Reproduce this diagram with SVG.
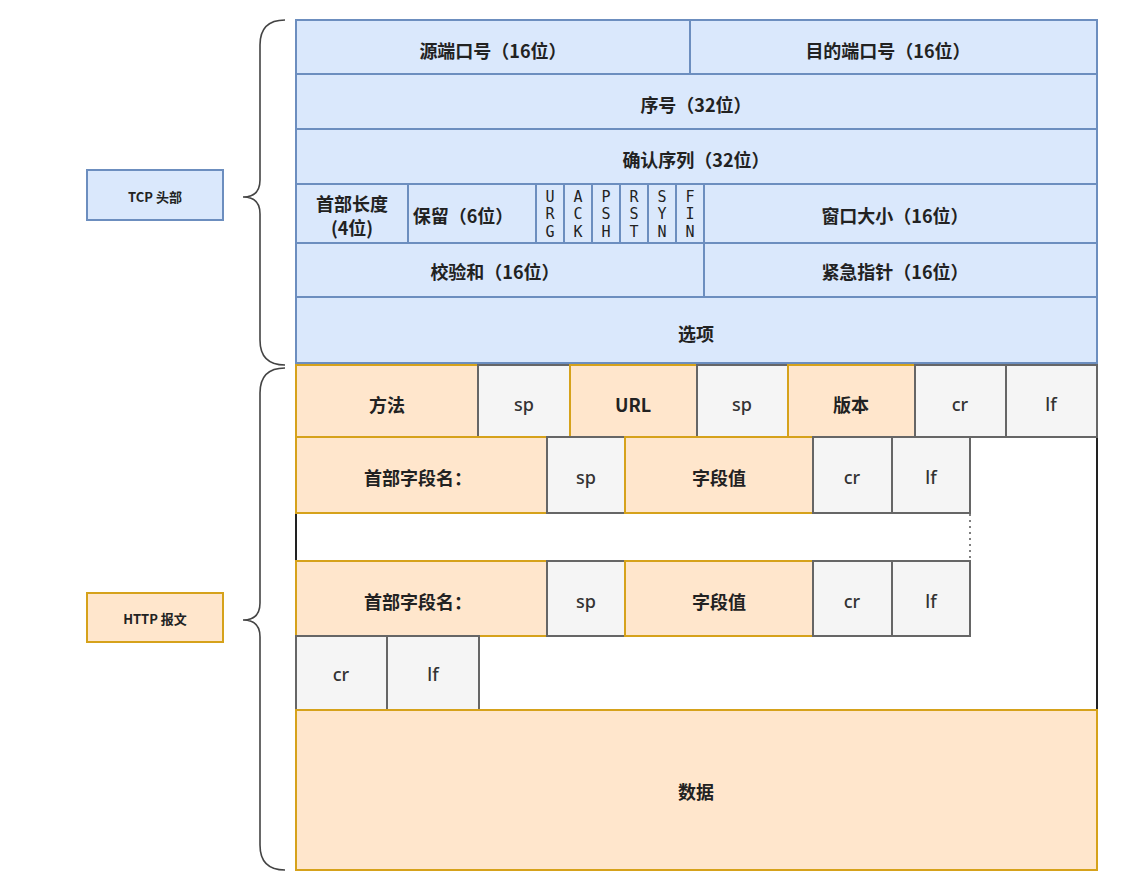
<svg xmlns="http://www.w3.org/2000/svg" width="1128" height="883" viewBox="0 0 1128 883">
<style>
.b{fill:#dae8fc;stroke:#6c8ebf;stroke-width:2}
.o{fill:#ffe6cc;stroke:#d6a21b;stroke-width:2}
.g{fill:#f5f5f5;stroke:#666;stroke-width:2}
.t{font-family:"Noto Sans CJK SC","Noto Sans",sans-serif;font-weight:bold;font-size:18px;fill:#222;text-anchor:middle;dominant-baseline:central}
.s{font-family:"Noto Sans","Noto Sans CJK SC",sans-serif;font-weight:500;font-size:18px;fill:#333;text-anchor:middle;dominant-baseline:central}
.f{font-family:"DejaVu Sans Mono","Liberation Mono",monospace;font-size:15px;fill:#222;text-anchor:middle;dominant-baseline:central}
.l{font-family:"Noto Sans CJK SC","Noto Sans",sans-serif;font-weight:bold;font-size:13px;fill:#222;text-anchor:middle;dominant-baseline:central}
.br{fill:none;stroke:#444;stroke-width:1.6}
</style>
<rect width="1128" height="883" fill="#fff"/>
<g id="label-tcp"><rect class="b" x="87" y="170" width="136" height="50"/><text class="l" x="155" y="196">TCP 头部</text></g>
<g id="label-http"><rect class="o" x="87" y="593" width="136" height="49"/><text class="l" x="155" y="618">HTTP 报文</text></g>
<g id="http-frame"><rect x="296" y="365" width="801" height="345" fill="#fff" stroke="#222" stroke-width="2"/></g>
<g id="src-port"><rect class="b" x="296" y="20" width="394" height="54"/><text class="t" x="493" y="50">源端口号（16位）</text></g>
<g id="dst-port"><rect class="b" x="690" y="20" width="407" height="54"/><text class="t" x="888" y="50">目的端口号（16位）</text></g>
<g id="seq"><rect class="b" x="296" y="74" width="801" height="55"/><text class="t" x="696" y="104">序号（32位）</text></g>
<g id="ack"><rect class="b" x="296" y="129" width="801" height="55"/><text class="t" x="696" y="159">确认序列（32位）</text></g>
<g id="hlen"><rect class="b" x="296" y="184" width="112" height="59"/><text class="t" x="352" y="203">首部长度</text><text class="t" x="352" y="227">(4位)</text></g>
<g id="reserved"><rect class="b" x="408" y="184" width="128" height="59"/><text class="t" x="463" y="215">保留（6位）</text></g>
<g id="flag-urg"><rect class="b" x="536" y="184" width="28" height="59"/><text class="f" x="550" y="197">U</text><text class="f" x="550" y="214">R</text><text class="f" x="550" y="232">G</text></g>
<g id="flag-ack"><rect class="b" x="564" y="184" width="28" height="59"/><text class="f" x="578" y="197">A</text><text class="f" x="578" y="214">C</text><text class="f" x="578" y="232">K</text></g>
<g id="flag-psh"><rect class="b" x="592" y="184" width="28" height="59"/><text class="f" x="606" y="197">P</text><text class="f" x="606" y="214">S</text><text class="f" x="606" y="232">H</text></g>
<g id="flag-rst"><rect class="b" x="620" y="184" width="28" height="59"/><text class="f" x="634" y="197">R</text><text class="f" x="634" y="214">S</text><text class="f" x="634" y="232">T</text></g>
<g id="flag-syn"><rect class="b" x="648" y="184" width="28" height="59"/><text class="f" x="662" y="197">S</text><text class="f" x="662" y="214">Y</text><text class="f" x="662" y="232">N</text></g>
<g id="flag-fin"><rect class="b" x="676" y="184" width="28" height="59"/><text class="f" x="690" y="197">F</text><text class="f" x="690" y="214">I</text><text class="f" x="690" y="232">N</text></g>
<g id="window"><rect class="b" x="704" y="184" width="393" height="59"/><text class="t" x="895" y="215">窗口大小（16位）</text></g>
<g id="checksum"><rect class="b" x="296" y="243" width="408" height="54"/><text class="t" x="495" y="271">校验和（16位）</text></g>
<g id="urgent"><rect class="b" x="704" y="243" width="393" height="54"/><text class="t" x="895" y="271">紧急指针（16位）</text></g>
<g id="options"><rect class="b" x="296" y="297" width="801" height="66"/><text class="t" x="696" y="333">选项</text></g>
<g id="method"><rect class="o" x="296" y="365" width="182" height="72"/><text class="t" x="387" y="404">方法</text></g>
<g id="sp1"><rect class="g" x="478" y="365" width="92" height="72"/><text class="s" x="524" y="404">sp</text></g>
<g id="url"><rect class="o" x="570" y="365" width="127" height="72"/><text class="t" x="633" y="404">URL</text></g>
<g id="sp2"><rect class="g" x="697" y="365" width="91" height="72"/><text class="s" x="742" y="404">sp</text></g>
<g id="version"><rect class="o" x="788" y="365" width="127" height="72"/><text class="t" x="851" y="404">版本</text></g>
<g id="cr1"><rect class="g" x="915" y="365" width="91" height="72"/><text class="s" x="960" y="404">cr</text></g>
<g id="lf1"><rect class="g" x="1006" y="365" width="91" height="72"/><text class="s" x="1051" y="404">lf</text></g>
<g id="hname1"><rect class="o" x="296" y="437" width="251" height="76"/><text class="t" x="418" y="477">首部字段名：</text></g>
<g id="sp3"><rect class="g" x="547" y="437" width="78" height="76"/><text class="s" x="586" y="477">sp</text></g>
<g id="hval1"><rect class="o" x="625" y="437" width="188" height="76"/><text class="t" x="719" y="477">字段值</text></g>
<g id="cr2"><rect class="g" x="813" y="437" width="79" height="76"/><text class="s" x="852" y="477">cr</text></g>
<g id="lf2"><rect class="g" x="892" y="437" width="78" height="76"/><text class="s" x="931" y="477">lf</text></g>
<g id="hname2"><rect class="o" x="296" y="561" width="251" height="75"/><text class="t" x="418" y="601">首部字段名：</text></g>
<g id="sp4"><rect class="g" x="547" y="561" width="78" height="75"/><text class="s" x="586" y="601">sp</text></g>
<g id="hval2"><rect class="o" x="625" y="561" width="188" height="75"/><text class="t" x="719" y="601">字段值</text></g>
<g id="cr3"><rect class="g" x="813" y="561" width="79" height="75"/><text class="s" x="852" y="601">cr</text></g>
<g id="lf3"><rect class="g" x="892" y="561" width="78" height="75"/><text class="s" x="931" y="601">lf</text></g>
<g id="cr4"><rect class="g" x="296" y="636" width="91" height="74"/><text class="s" x="341" y="674">cr</text></g>
<g id="lf4"><rect class="g" x="387" y="636" width="92" height="74"/><text class="s" x="433" y="674">lf</text></g>
<g id="data"><rect class="o" x="296" y="710" width="801" height="160"/><text class="t" x="696" y="791">数据</text></g>
<g id="connectors">
<path class="br" d="M285,20 Q260,20 260,45 L260,180 Q260,197 243,197 Q260,197 260,214 L260,340 Q260,365 285,365"/>
<path class="br" d="M285,368 Q260,368 260,393 L260,603 Q260,620 243,620 Q260,620 260,637 L260,845 Q260,870 285,870"/>
<line x1="970" y1="514" x2="970" y2="560" stroke="#555" stroke-width="1.5" stroke-dasharray="2,4"/>
</g>
</svg>
